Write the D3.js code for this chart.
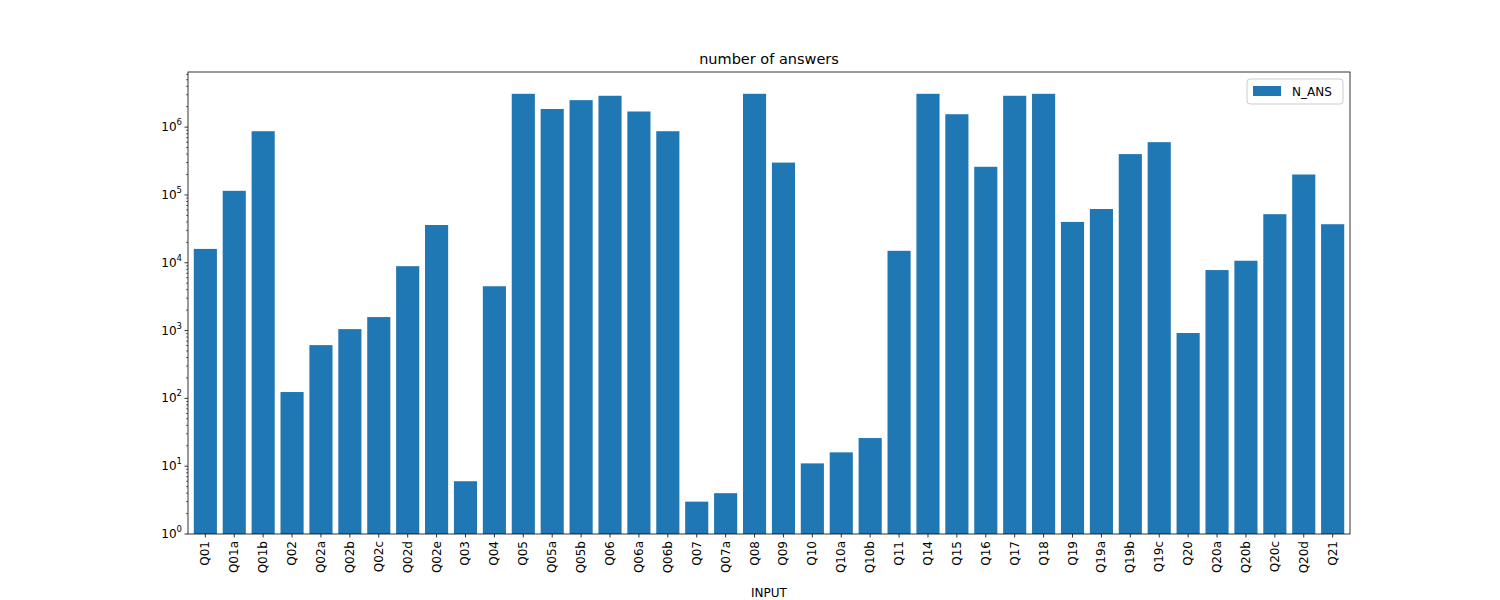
<!DOCTYPE html><html><head><meta charset="utf-8">
<script src="https://cdn.jsdelivr.net/npm/d3@7"></script>
<style>body{margin:0;background:#fff}text{font-family:"DejaVu Sans",sans-serif}</style></head><body>
<svg id="c" width="1500" height="600"></svg>
<script>
const categories=["Q01","Q01a","Q01b","Q02","Q02a","Q02b","Q02c","Q02d","Q02e","Q03","Q04","Q05","Q05a","Q05b","Q06","Q06a","Q06b","Q07","Q07a","Q08","Q09","Q10","Q10a","Q10b","Q11","Q14","Q15","Q16","Q17","Q18","Q19","Q19a","Q19b","Q19c","Q20","Q20a","Q20b","Q20c","Q20d","Q21"];
const values=[16000,115000,870000,124,610,1050,1580,8900,36000,6,4500,3100000,1850000,2500000,2900000,1700000,870000,3,4,3100000,300000,11,16,26,15000,3100000,1550000,260000,2900000,3100000,40000,62000,400000,600000,920,7800,10700,52000,200000,37000];
const tickExps=[0,1,2,3,4,5,6];
const svg=d3.select("#c");
const L=188,R=1350,T=72,B=534;
const x=d3.scaleBand().domain(categories).range([L,R]).padding(0.2);
const y=d3.scaleLog().domain([1,6.5e6]).range([B,T]);
svg.append("g").selectAll("rect").data(values).join("rect")
 .attr("x",(d,i)=>x(categories[i])).attr("width",x.bandwidth())
 .attr("y",d=>y(d)).attr("height",d=>B-y(d)).attr("fill","#1f77b4");
svg.append("rect").attr("x",L).attr("y",T).attr("width",R-L).attr("height",B-T).attr("fill","none").attr("stroke","#000").attr("stroke-width",0.8);
// x axis
const xa=svg.append("g");
categories.forEach(c=>{const cx=x(c)+x.bandwidth()/2;
 xa.append("line").attr("x1",cx).attr("x2",cx).attr("y1",B).attr("y2",B+3.5).attr("stroke","#000").attr("stroke-width",0.8);
 xa.append("text").attr("transform",`translate(${cx+4},${B+7}) rotate(-90)`).attr("text-anchor","end").attr("font-size",12).text(c);});
svg.append("text").attr("x",(L+R)/2).attr("y",597).attr("text-anchor","middle").attr("font-size",12).text("INPUT");
// y axis
const ya=svg.append("g");
tickExps.forEach(e=>{const v=Math.pow(10,e),py=y(v);
 ya.append("line").attr("x1",L-3.5).attr("x2",L).attr("y1",py).attr("y2",py).attr("stroke","#000").attr("stroke-width",0.8);
 const t=ya.append("text").attr("x",L-6).attr("y",py+4).attr("text-anchor","end").attr("font-size",12);
 t.append("tspan").text("10");t.append("tspan").attr("dy",-6).attr("font-size",8.5).text(e);
 for(let k=2;k<10;k++){const mv=v*k;if(mv<=6.5e6){const my=y(mv);
  ya.append("line").attr("x1",L-2).attr("x2",L).attr("y1",my).attr("y2",my).attr("stroke","#000").attr("stroke-width",0.6);}}
});
svg.append("text").attr("x",(L+R)/2).attr("y",64).attr("text-anchor","middle").attr("font-size",14.5).text("number of answers");
// legend
const lg=svg.append("g");
lg.append("rect").attr("x",1247).attr("y",79).attr("width",96).attr("height",25).attr("rx",3).attr("fill","#fff").attr("stroke","#ccc");
lg.append("rect").attr("x",1253).attr("y",86).attr("width",28).attr("height",10).attr("fill","#1f77b4");
lg.append("text").attr("x",1292).attr("y",96).attr("font-size",12).text("N_ANS");
</script></body></html>
